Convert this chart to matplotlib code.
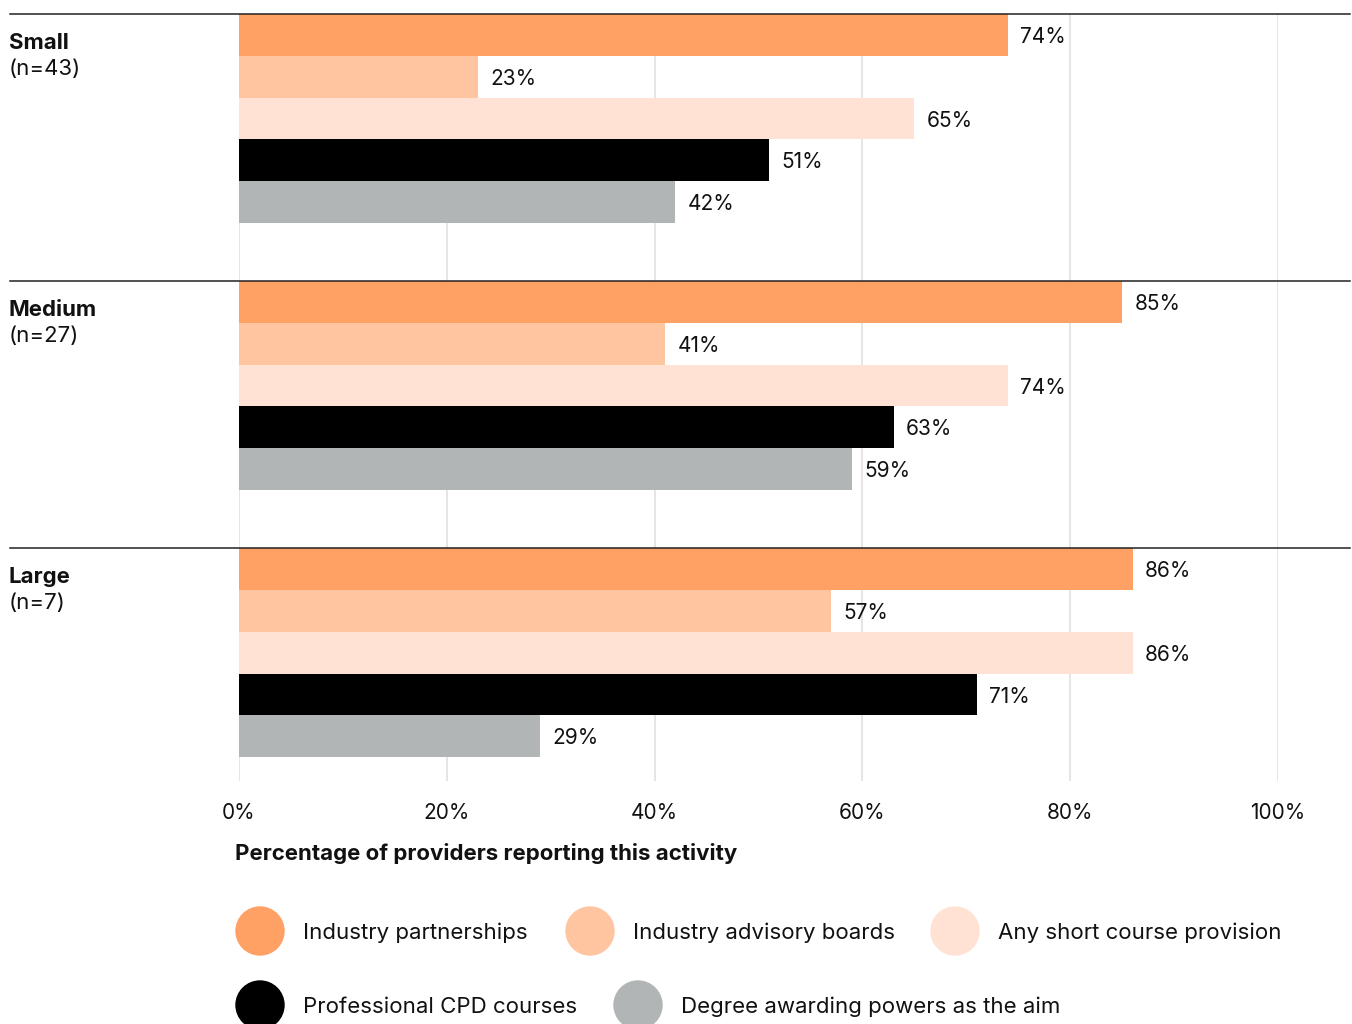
import matplotlib.pyplot as plt
import matplotlib.transforms as mtransforms
from matplotlib.patches import Circle

plt.rcParams["font.family"] = ["Inter", "DejaVu Sans"]

# datos
groups = ["Small", "Medium", "Large"]
group_n = [43, 27, 7]
series_names = [
    "Industry partnerships",
    "Industry advisory boards",
    "Any short course provision",
    "Professional CPD courses",
    "Degree awarding powers as the aim",
]
partnerships = [74, 85, 86]
advisory = [23, 41, 57]
short_course = [65, 74, 86]
cpd = [51, 63, 71]
degree = [42, 59, 29]
x_ticks = [0, 20, 40, 60, 80, 100]

series = [partnerships, advisory, short_course, cpd, degree]
colors = ["#FFA064", "#FFC4A0", "#FFE2D3", "#000000", "#B1B5B5"]

# geometría: una barra = 1 unidad, separación entre grupos
GROUP_STEP = 6.39
Y_BOTTOM = 18.35

fig = plt.figure(figsize=(13.52, 10.24), dpi=100)
ax = fig.add_axes([239 / 1352, 1 - 781 / 1024, (1278 - 239) / 1352, (781 - 14) / 1024])

for g in range(len(groups)):
    top = g * GROUP_STEP
    for s, (vals, col) in enumerate(zip(series, colors)):
        y = top + s + 0.5
        ax.barh(y, vals[g], height=1.0, color=col, zorder=3)
        ax.text(vals[g] + 1.2, y + 0.05, f"{vals[g]}%", va="center", ha="left",
                fontsize=15, color="#111111", zorder=4)

ax.set_xlim(0, 100)
ax.set_ylim(Y_BOTTOM, 0)
ax.set_xticks(x_ticks)
ax.set_xticklabels([f"{t}%" for t in x_ticks], fontsize=15, color="#111111")
ax.set_yticks([])
ax.tick_params(axis="x", length=0, pad=15.5)
for t in x_ticks:
    ax.axvline(t, color="#E3E3E3", lw=1.3, zorder=1)
for sp in ax.spines.values():
    sp.set_visible(False)

fig.text(235 / 1352, 1 - 853 / 1024, "Percentage of providers reporting this activity",
         fontsize=16, fontweight="bold", color="#111111", va="center", ha="left")

# separadores y etiquetas de grupo
blend = mtransforms.blended_transform_factory(fig.transFigure, ax.transData)
for g, (name, n) in enumerate(zip(groups, group_n)):
    top = g * GROUP_STEP
    ax.plot([10 / 1352, 1350 / 1352], [top, top], color="#222222", lw=1.1,
            transform=blend, clip_on=False, zorder=5)
    ax.text(9 / 1352, top + 0.84, name, transform=blend, fontsize=16,
            fontweight="bold", va="baseline", ha="left", color="#111111")
    ax.text(9 / 1352, top + 1.45, f"(n={n})", transform=blend, fontsize=16,
            va="baseline", ha="left", color="#111111")

# leyenda en coordenadas de píxel
leg = fig.add_axes([0, 0, 1, 1], zorder=-1)
leg.set_xlim(0, 1352)
leg.set_ylim(1024, 0)
leg.axis("off")
legend_pos = [(260, 931), (590, 931), (955, 931), (260, 1005), (638, 1005)]
for (cx, cy), name, col in zip(legend_pos, series_names, colors):
    leg.add_patch(Circle((cx, cy), 24, color=col, clip_on=False))
    leg.text(cx + 43, cy + 2, name, fontsize=16, va="center", ha="left", color="#111111")

fig.savefig("out.png", dpi=100)
